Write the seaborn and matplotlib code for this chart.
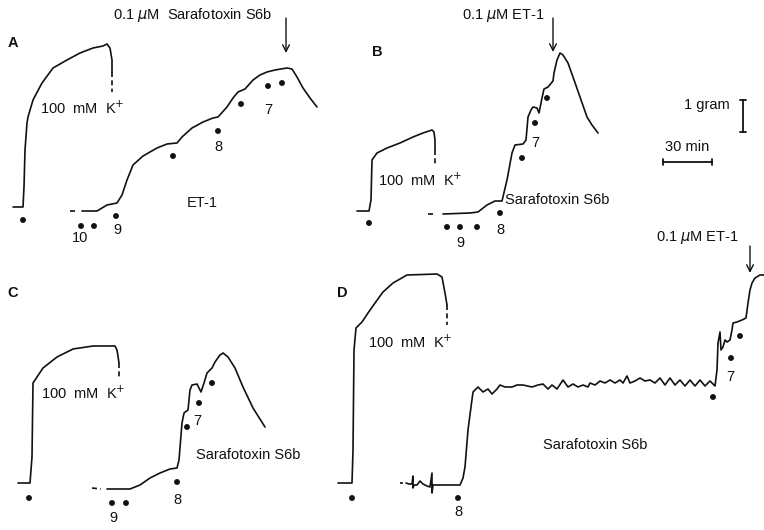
import matplotlib
matplotlib.use("Agg")
import matplotlib.pyplot as plt
import seaborn as sns

sns.set_theme(style="white")
plt.rcParams["font.family"] = ["Liberation Sans", "DejaVu Sans"]

INK = "#111111"
FS = 10.5

# ---- Panel A: K+ contracture, then cumulative ET-1 (time, tension in chart units) ----
a_k_time = [13, 23, 24, 25, 27, 28, 33, 42, 53, 67, 80, 93, 103, 107, 110, 112, 112]
a_k_tension = [207, 207, 187, 150, 123, 117, 100, 83, 68, 60, 53, 48, 46, 44, 48, 60, 72]
a_k_wash_time = [112, 112]
a_k_wash_tension = [72, 92]
a_et_lead_time = [70, 75]
a_et_lead_tension = [211, 211]
a_et_time = [82, 97, 107, 117, 122, 127, 133, 143, 157, 167, 177, 182, 192, 203, 213, 218,
             227, 233, 238, 245, 253, 260, 267, 275, 287, 292, 297, 303, 310, 317]
a_et_tension = [211, 211, 205, 203, 195, 180, 165, 156, 148, 144, 143, 137, 128, 122, 118, 117,
                107, 98, 92, 89, 80, 75, 72, 70, 68, 69, 77, 88, 98, 107]
a_dose_time = [23, 81, 94, 116, 173, 218, 241, 268, 282]
a_dose_level = [220, 226, 226, 216, 156, 131, 104, 86, 83]

# ---- Panel B: K+ contracture, then cumulative sarafotoxin S6b ----
b_k_time = [357, 369, 371, 372, 377, 387, 400, 413, 423, 432, 434, 435, 435]
b_k_tension = [211, 211, 200, 160, 153, 148, 143, 137, 133, 130, 132, 140, 150]
b_k_wash_time = [435, 435]
b_k_wash_tension = [150, 165]
b_s6_lead_time = [428, 434]
b_s6_lead_tension = [214, 214]
b_s6_time = [443, 470, 478, 487, 495, 502, 507, 512, 515, 523, 526, 528, 531, 533, 537, 539,
             542, 544, 548, 553, 554, 557, 560, 563, 568, 573, 580, 587, 592, 598]
b_s6_tension = [214, 213, 212, 205, 201, 201, 180, 153, 145, 144, 140, 117, 110, 107, 108, 113,
                98, 89, 87, 81, 73, 60, 53, 55, 63, 77, 97, 117, 125, 133]
b_dose_time = [369, 447, 460, 477, 500, 522, 535, 547]
b_dose_level = [223, 227, 227, 227, 213, 158, 123, 98]

# ---- Panel C: K+ contracture, then cumulative sarafotoxin S6b ----
c_k_time = [18, 30, 32, 33, 37, 43, 57, 73, 93, 115, 117, 119]
c_k_tension = [483, 483, 457, 383, 377, 368, 357, 349, 346, 346, 350, 363]
c_k_wash_time = [119, 119]
c_k_wash_tension = [363, 377]
c_s6_lead_time = [92, 101]
c_s6_lead_tension = [488, 489]
c_s6_time = [107, 130, 140, 150, 160, 170, 177, 179, 182, 184, 188, 190, 192, 197, 201, 204,
             207, 212, 215, 220, 223, 228, 235, 243, 253, 265]
c_s6_tension = [489, 489, 485, 478, 473, 469, 468, 460, 423, 413, 410, 390, 385, 384, 392, 383,
                373, 368, 362, 355, 353, 357, 368, 387, 408, 427]
c_dose_time = [29, 112, 126, 177, 187, 199, 212]
c_dose_level = [498, 503, 503, 482, 427, 403, 383]

# ---- Panel D: K+ contracture, sarafotoxin S6b plateau, then ET-1 ----
d_k_time = [338, 352, 353, 354, 356, 362, 368, 375, 383, 393, 407, 437, 442, 445, 447]
d_k_tension = [483, 483, 450, 350, 328, 322, 313, 303, 292, 283, 275, 274, 277, 293, 305]
d_k_wash_time = [447, 447]
d_k_wash_tension = [305, 325]
d_s6_lead_time = [400, 403]
d_s6_lead_tension = [483, 483]
d_s6_time = [406, 409, 412, 413, 413, 414, 417, 420, 423, 427, 430, 432, 432, 433, 443, 460,
             463, 465, 468, 471, 473, 475, 478, 483, 488, 492, 497, 500, 505, 512, 517, 523,
             532, 538, 543, 548, 552, 557, 563, 568, 573, 578, 583, 588, 590, 595, 600, 605,
             610, 615, 620, 623, 627, 630, 635, 640, 645, 650, 655, 660, 665, 670, 675, 680,
             685, 690, 695, 700, 705, 710, 715, 717, 718, 720, 721, 723, 725, 727, 730, 732,
             733, 737, 742, 746, 748, 750, 752, 755, 760, 764]
d_s6_tension = [483, 484, 484, 476, 488, 485, 485, 481, 484, 486, 487, 473, 493, 485, 485, 485,
                478, 467, 430, 407, 392, 390, 387, 392, 389, 394, 389, 385, 387, 387, 385, 385,
                387, 385, 384, 389, 385, 389, 380, 387, 384, 387, 385, 387, 383, 385, 381, 383,
                380, 383, 380, 383, 376, 383, 381, 378, 381, 380, 383, 378, 385, 378, 385, 380,
                386, 380, 386, 380, 386, 381, 386, 370, 343, 332, 350, 347, 340, 342, 340, 330,
                323, 322, 320, 318, 303, 290, 283, 278, 275, 275]
d_dose_time = [352, 458, 713, 731, 740]
d_dose_level = [498, 498, 397, 358, 336]

# log molar concentration labels placed under the dose marks
dose_labels = ["10", "9", "8", "7", "9", "8", "7", "9", "8", "7", "8", "7"]
dose_label_x = [80, 117, 218, 268, 460, 500, 535, 113, 177, 197, 458, 730]
dose_label_y = [238, 230, 147, 110, 243, 230, 143, 518, 500, 421, 512, 377]

fig = plt.figure(figsize=(7.64, 5.30), dpi=100)
ax = fig.add_axes([0, 0, 1, 1])
ax.set_xlim(0, 764)
ax.set_ylim(530, 0)
ax.axis("off")


def trace(xs, ys, style="-"):
    sns.lineplot(x=xs, y=ys, sort=False, estimator=None, color=INK,
                 linewidth=1.2, linestyle=style, ax=ax, legend=False)


solid = [(a_k_time, a_k_tension), (a_et_time, a_et_tension),
         (b_k_time, b_k_tension), (b_s6_time, b_s6_tension),
         (c_k_time, c_k_tension), (c_s6_time, c_s6_tension),
         (d_k_time, d_k_tension), (d_s6_time, d_s6_tension)]
dashed = [(a_k_wash_time, a_k_wash_tension), (a_et_lead_time, a_et_lead_tension),
          (b_k_wash_time, b_k_wash_tension), (b_s6_lead_time, b_s6_lead_tension),
          (c_k_wash_time, c_k_wash_tension), (c_s6_lead_time, c_s6_lead_tension),
          (d_k_wash_time, d_k_wash_tension), (d_s6_lead_time, d_s6_lead_tension)]
for xs, ys in solid:
    trace(xs, ys)
for xs, ys in dashed:
    trace(xs, ys, style=(0, (3, 2)))

for xs, ys in [(a_dose_time, a_dose_level), (b_dose_time, b_dose_level),
               (c_dose_time, c_dose_level), (d_dose_time, d_dose_level)]:
    sns.scatterplot(x=xs, y=ys, color=INK, s=18, edgecolor="none", ax=ax, legend=False)

txt = dict(ha="center", va="center", fontsize=FS, color=INK)
for s, x, y in zip(dose_labels, dose_label_x, dose_label_y):
    ax.text(x, y, s, **txt)

# panel letters
for s, x, y in [("A", 13, 43), ("B", 377, 52), ("C", 13, 293), ("D", 342, 293)]:
    ax.text(x, y, s, ha="center", va="center", fontsize=FS, fontweight="bold", color=INK)

# agent labels
for x, y in [(82, 108), (420, 180), (83, 393), (410, 342)]:
    ax.text(x, y, "100  mM  K$^{+}$", **txt)
ax.text(202, 203, "ET-1", **txt)
for x, y in [(557, 200), (248, 455), (595, 445)]:
    ax.text(x, y, "Sarafotoxin S6b", **txt)

# single-dose additions with arrows
ax.text(193, 15, "0.1 $\\mu$M  Sarafotoxin S6b", **txt)
ax.text(503, 15, "0.1 $\\mu$M ET-1", **txt)
ax.text(697, 238, "0.1 $\\mu$M ET-1", **txt)
arrow = dict(arrowstyle="->", color=INK, lw=1.0, shrinkA=0, shrinkB=0)
for x, y0, y1 in [(286, 18, 53), (553, 18, 52), (750, 246, 273)]:
    ax.annotate("", xy=(x, y1), xytext=(x, y0), arrowprops=arrow)

# scale bars
ax.text(730, 105, "1 gram", ha="right", va="center", fontsize=FS, color=INK)
ax.plot([743, 743], [100, 132], color=INK, lw=1.3)
ax.plot([740, 746], [100, 100], color=INK, lw=1.3)
ax.plot([740, 746], [132, 132], color=INK, lw=1.3)
ax.text(687, 147, "30 min", **txt)
ax.plot([663, 712], [162, 162], color=INK, lw=1.3)
ax.plot([663, 663], [159, 165], color=INK, lw=1.3)
ax.plot([712, 712], [159, 165], color=INK, lw=1.3)

fig.savefig("out.png", dpi=100, facecolor="white")
